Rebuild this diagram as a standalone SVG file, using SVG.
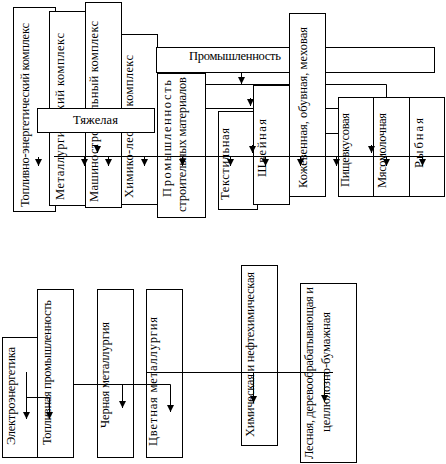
<svg xmlns="http://www.w3.org/2000/svg" width="446" height="464" viewBox="0 0 446 464">
<defs>
<marker id="ah" viewBox="0 0 8 8" refX="8" refY="4" markerWidth="7" markerHeight="8" markerUnits="userSpaceOnUse" orient="auto">
<path d="M0,0 L8,4 L0,8 z" fill="#000"/>
</marker>
<style>
rect{fill:#fff;stroke:#000;stroke-width:1}
text{font-family:"Liberation Serif","DejaVu Serif","Times New Roman",serif;font-size:12.5px;fill:#000}
.c path{fill:none;stroke:#000;stroke-width:1}
.c .a{marker-end:url(#ah)}
</style>
</defs>
<rect width="446" height="464" style="fill:#fff;stroke:none"/>
<g id="n-toplivno-energ"><rect x="13.5" y="7.5" width="42" height="204"/><text transform="translate(29,207) rotate(-90)" textLength="184">Топливно-энергетический комплекс</text></g>
<g id="n-metallurg"><rect x="49.5" y="11.5" width="36" height="194"/><text transform="translate(64,200) rotate(-90)" textLength="167">Металлургический комплекс</text></g>
<g id="n-mashino"><rect x="85.5" y="2.5" width="36" height="205"/><text transform="translate(98,202) rotate(-90)" textLength="181">Машиностроительный комплекс</text></g>
<g id="n-khimiko-lesnoy"><rect x="121.5" y="34.5" width="36" height="170"/><text transform="translate(133,198) rotate(-90)" textLength="143">Химико-лесной комплекс</text></g>
<g id="n-promyshlennost"><rect x="156.5" y="47.5" width="278" height="25"/><text x="189" y="60" textLength="92">Промышленность</text></g>
<g id="n-prom-stroy"><rect x="157.5" y="73.5" width="48" height="144"/><text transform="translate(171,197) rotate(-90)" textLength="117">Промышленность</text><text transform="translate(186,212) rotate(-90)" textLength="135">строительных материалов</text></g>
<g id="n-tekstil"><rect x="218.5" y="111.5" width="39" height="98"/><text transform="translate(229,200) rotate(-90)" textLength="72">Текстильная</text></g>
<g id="n-shveynaya"><rect x="253.5" y="85.5" width="36" height="119"/><text transform="translate(266,177) rotate(-90)" textLength="58">Швейная</text></g>
<g id="n-kozhevennaya"><rect x="289.5" y="13.5" width="36" height="183"/><text transform="translate(307,188) rotate(-90)" textLength="161">Кожевенная, обувная, меховая</text></g>
<g id="n-pishchevkus"><rect x="338.5" y="97.5" width="35" height="99"/><text transform="translate(349,187) rotate(-90)" textLength="74">Пищевкусовая</text></g>
<g id="n-myasomol"><rect x="373.5" y="97.5" width="36" height="99"/><text transform="translate(386,188) rotate(-90)" textLength="75">Мясомолочная</text></g>
<g id="n-rybnaya"><rect x="409.5" y="97.5" width="35" height="99"/><text transform="translate(423,168) rotate(-90)" textLength="50">Рыбная</text></g>
<g id="n-tyazhelaya"><rect x="37.5" y="108.5" width="117" height="24"/><text x="95.5" y="124" text-anchor="middle" textLength="45">Тяжелая</text></g>
<g id="n-elektro"><rect x="2.5" y="337.5" width="35" height="120"/><text transform="translate(15,445) rotate(-90)" textLength="98">Электроэнергетика</text></g>
<g id="n-toplivnaya"><rect x="37.5" y="289.5" width="36" height="168"/><text transform="translate(51,445) rotate(-90)" textLength="145">Топливная промышленность</text></g>
<g id="n-chernaya"><rect x="97.5" y="289.5" width="36" height="168"/><text transform="translate(109,428) rotate(-90)" textLength="106">Черная металлургия</text></g>
<g id="n-tsvetnaya"><rect x="146.5" y="289.5" width="36" height="168"/><text transform="translate(157,446) rotate(-90)" textLength="129">Цветная металлургия</text></g>
<g id="n-khimicheskaya"><rect x="241.5" y="265.5" width="36" height="180"/><text transform="translate(254,437) rotate(-90)" textLength="165">Химическая и нефтехимическая</text></g>
<g id="n-lesnaya"><rect x="300.5" y="283.5" width="56" height="179"/><text transform="translate(313,459) rotate(-90)" textLength="172">Лесная, деревообрабатывающая и</text><text transform="translate(330,432) rotate(-90)" textLength="120">целлюлозно-бумажная</text></g>
<g id="connectors" class="c">
<path class="a" d="M241.5,72.5 V84"/>
<path d="M205.5,84.5 H289.5"/>
<path d="M325.5,84.5 H386.5 V97.5"/>
<path d="M205.5,108.5 H253.5"/>
<path d="M325.5,108.5 H338.5"/>
<path d="M325.5,133.5 H338.5"/>
<path class="a" d="M250.5,98 V106"/>
<path d="M54,156.5 H445"/>
<path class="a" d="M38.5,157 V166"/>
<path class="a" d="M84.5,157 V166"/>
<path class="a" d="M108.5,157 V166"/>
<path class="a" d="M144.5,157 V166"/>
<path class="a" d="M182.5,157 V166"/>
<path class="a" d="M230.5,157 V166"/>
<path class="a" d="M265.5,157 V166"/>
<path class="a" d="M300.5,157 V166"/>
<path class="a" d="M336.5,157 V166"/>
<path class="a" d="M386.5,157 V166"/>
<path class="a" d="M422.5,157 V166"/>
<path class="a" d="M97.5,145 V153"/>
<path class="a" d="M252.5,145 V153"/>
<path class="a" d="M371.5,145 V153"/>
<path class="a" d="M26.5,372 V419"/>
<path class="a" d="M26.5,397.5 H49.5 V419"/>
<path class="a" d="M73.5,384.5 H170.5 V412"/>
<path class="a" d="M122.5,384.5 V408"/>
<path d="M146.5,372.5 H333"/>
<path class="a" d="M253.5,372.5 V403"/>
<path class="a" d="M324.5,372.5 V402"/>
</g>
</svg>
